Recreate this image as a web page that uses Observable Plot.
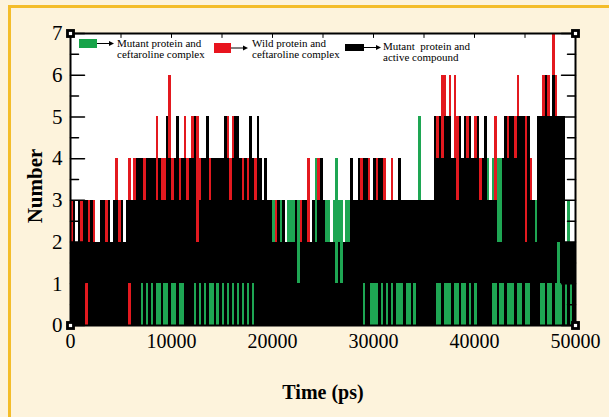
<!DOCTYPE html>
<html>
<head>
<meta charset="utf-8">
<script src="https://cdn.jsdelivr.net/npm/d3@7"></script>
<script src="https://cdn.jsdelivr.net/npm/@observablehq/plot@0.6"></script>
<style>
  html, body { margin: 0; padding: 0; background: #fdf3dc; }
  #wrap { position: relative; width: 609px; height: 417px; overflow: hidden; background: #fdf3dc; }
  #deco { position: absolute; left: 8px; top: 5px; width: 700px; height: 500px;
          border-top: 3px solid #f4bd2a; border-left: 3px solid #f4bd2a; box-sizing: border-box; }
  #chart { position: absolute; left: 0; top: 0; }
  #overlay { position: absolute; left: 0; top: 0; pointer-events: none; }
</style>
</head>
<body>
<div id="wrap">
  <div id="deco"></div>
  <div id="chart"></div>
  <svg id="overlay" width="609" height="417"></svg>
</div>
<script>
// ---------------- data ----------------
const xDomain = [0, 50000];
const yDomain = [0, 7];
const xTicks = [0, 10000, 20000, 30000, 40000, 50000];
const xTopTicks = [5000, 10000, 15000, 20000, 25000, 30000, 35000, 40000, 45000];
const yTicks = [0, 1, 2, 3, 4, 5, 6, 7];
const yMinorTicks = [0.5, 1.5, 2.5, 3.5, 4.5, 5.5, 6.5];
const binWidth = 250; // ps per sampled column

const seriesNames = ["Mutant protein and\nceftaroline complex", "Wild protein and\nceftaroline complex", "Mutant  protein and\nactive compound"];
const seriesColors = ["#1ea653", "#e3191f", "#000000"];

// Mutant protein + ceftaroline (green): per-column min / max number
const greenLo = [
0,0,0,0,0,0,0,0,0,0, 0,0,0,0,0,0,0,0,0,0,
0,0,0,0,0,0,0,0,0,0, 0,0,0,0,0,0,0,0,0,0,
0,0,0,0,0,0,0,0,0,0, 0,0,0,0,0,0,0,0,0,0,
0,0,0,0,0,0,0,0,0,0, 0,0,0,0,0,0,0,0,0,0,
0,0,0,0,0,0,0,0,0,0, 0,0,0,0,0,0,0,0,0,0,
0,0,0,0,0,0,0,0,0,0, 0,0,0,0,0,0,0,0,0,0,
0,0,0,0,0,0,0,0,0,0, 0,0,0,0,0,0,0,0,0,0,
0,0,0,0,0,0,0,0,0,0, 0,0,0,0,0,0,0,0,0,0,
0,0,0,0,0,0,0,0,0,0, 0,0,0,0,0,0,0,0,0,0,
0,0,0,0,0,0,0,0,0,0, 0,0,0,0,0,0,0,0,0,0];
const greenHi = [
1,1,1,1,1,1,1,1,1,1, 1,1,1,1,1,1,1,1,1,1,
1,1,1,1,1,1,1,1,1,1, 1,1,1,1,1,1,1,1,1,1,
1,1,1,1,1,1,1,1,1,1, 1,1,1,1,1,1,1,1,1,1,
1,1,1,1,1,1,1,1,1,1, 1,1,1,1,1,1,1,1,1,1,
3,1,1,3,1,1,3,3,3,1, 3,1,1,1,1,1,1,4,1,1,
1,3,3,1,3,4,3,3,1,3, 3,1,1,1,1,1,1,1,1,1,
1,1,1,1,1,1,1,1,1,1, 1,1,1,1,1,1,1,1,5,1,
1,1,1,1,1,1,1,1,1,1, 1,1,1,1,1,1,1,1,1,1,
1,1,1,1,1,4,1,4,1,4, 4,1,1,1,1,1,1,1,1,1,
1,1,1,1,3,1,1,1,1,1, 1,1,1,2,1,1,1,3,1,1];

// Wild protein + ceftaroline (red)
const redLo = [
1,1,1,1,1,1,0,1,1,1, 1,1,1,1,1,1,1,1,1,1,
1,1,1,0,1,1,1,1,1,1, 1,1,1,1,1,1,1,1,1,1,
1,1,1,1,1,1,1,1,1,1, 1,1,1,1,1,1,1,1,1,1,
1,1,1,1,1,1,1,1,1,1, 1,1,1,1,1,1,1,1,1,1,
1,1,1,1,1,1,1,1,1,1, 1,1,1,1,1,1,1,1,1,1,
1,1,1,1,1,1,1,1,1,1, 1,1,1,1,1,1,1,1,1,1,
1,1,1,1,1,1,1,1,1,1, 1,1,1,1,1,1,1,1,1,1,
1,1,1,1,1,1,1,1,1,1, 1,1,1,1,1,1,1,1,1,1,
1,1,1,1,1,1,1,1,1,1, 1,1,1,1,1,1,1,1,1,1,
1,1,1,1,1,1,1,1,1,1, 1,1,1,1,1,1,1,1,1,1];
const redHi = [
3,1,1,1,3,1,3,3,1,3, 1,1,1,1,3,1,1,1,4,3,
1,1,3,4,1,4,1,4,1,4, 1,1,1,1,5,1,4,4,1,6,
4,1,1,4,1,5,4,1,5,1, 5,4,1,1,1,4,1,1,1,1,
1,1,5,4,5,1,1,1,4,1, 4,1,1,4,1,1,1,1,1,1,
1,3,1,1,1,1,1,1,1,1, 1,3,1,1,4,1,1,1,4,1,
1,1,1,1,1,1,1,1,1,1, 1,1,1,1,1,4,1,1,4,1,
1,4,1,1,4,1,1,4,1,1, 1,1,1,1,1,1,1,1,1,1,
1,1,1,1,1,5,1,6,6,1, 6,1,6,5,1,1,1,5,1,1,
5,1,4,1,1,1,1,1,5,1, 1,1,1,5,1,1,5,6,1,1,
5,1,4,1,1,1,1,6,1,6, 1,7,6,1,1,1,1,1,1,1];

// Mutant protein + active compound (black)
const blackLo = [
0,0,0,0,0,0,1,0,0,0, 0,0,0,0,0,0,0,0,0,0,
0,0,0,1,0,0,0,0,1,0, 1,0,1,0,1,1,0,1,1,0,
1,1,0,1,1,0,0,0,0,1, 0,1,0,1,0,1,1,0,1,0,
1,0,1,0,1,0,1,0,1,0, 1,0,1,0,0,0,0,0,0,0,
0,0,0,0,0,0,0,0,0,0, 0,0,0,0,0,0,0,0,0,0,
0,0,0,0,0,0,0,0,0,0, 0,0,0,0,0,0,1,0,0,1,
1,1,0,1,0,1,0,1,0,1, 1,1,0,1,1,0,1,0,0,0,
0,0,0,0,0,1,1,0,1,1, 1,0,1,1,0,1,1,0,1,0,
1,0,0,0,0,0,0,1,1,0, 1,1,0,1,1,1,0,1,1,0,
1,1,0,0,0,0,1,1,0,1, 1,0,1,2,1,0,1,0,1,0];
const blackHi = [
2,3,2,3,2,3,3,2,3,2, 2,2,3,3,2,3,2,3,3,2,
3,2,3,3,3,3,4,4,4,3, 4,4,4,4,3,4,3,3,5,4,
3,4,5,3,4,4,3,4,4,5, 2,3,4,4,5,3,4,4,4,4,
4,5,4,3,4,5,5,4,3,4, 3,5,4,3,5,4,3,4,3,3,
2,2,3,2,3,2,2,2,2,3, 1,2,3,3,2,2,3,2,3,4,
3,2,2,2,2,1,2,1,2,2, 2,4,3,3,4,3,4,4,3,3,
4,3,4,4,3,3,3,3,3,3, 4,3,3,3,3,3,3,3,3,3,
3,3,3,3,5,4,5,4,5,5, 5,4,4,3,5,4,5,4,5,4,
4,5,3,4,5,3,3,3,3,2, 2,4,5,4,5,5,4,5,5,5,
2,5,3,3,2,5,5,5,6,5, 5,6,5,5,5,5,2,2,2,2];

// ---------------- build ----------------
const toRows = (lo, hi) => lo
  .map((l, i) => ({t0: i * binWidth, t1: (i + 1) * binWidth, lo: l, hi: hi[i]}))
  .filter(d => d.hi > d.lo);

const greenRows = toRows(greenLo, greenHi);
const redRows = toRows(redLo, redHi);
const blackRows = toRows(blackLo, blackHi);

const tickShape = {draw(context, length) { context.moveTo(0, 0); context.lineTo(0, -length); }};
const corners = [
  {x: xDomain[0], y: yDomain[0]}, {x: xDomain[0], y: yDomain[1]},
  {x: xDomain[1], y: yDomain[0]}, {x: xDomain[1], y: yDomain[1]}
];
const serif = "Liberation Serif, Times New Roman, serif";

const chart = Plot.plot({
  width: 609,
  height: 417,
  marginLeft: 70,
  marginRight: 34,
  marginTop: 33,
  marginBottom: 92,
  x: {domain: xDomain},
  y: {domain: yDomain},
  style: {fontFamily: serif, fontSize: "20px", background: "transparent", color: "black", overflow: "visible"},
  marks: [
    Plot.frame({fill: "white"}),
    Plot.rect(greenRows, {x1: "t0", x2: "t1", y1: "lo", y2: "hi", fill: seriesColors[0], shapeRendering: "crispEdges"}),
    Plot.rect(redRows, {x1: "t0", x2: "t1", y1: "lo", y2: "hi", fill: seriesColors[1], shapeRendering: "crispEdges"}),
    Plot.rect(blackRows, {x1: "t0", x2: "t1", y1: "lo", y2: "hi", fill: seriesColors[2], shapeRendering: "crispEdges"}),
    Plot.axisX(xTicks, {anchor: "bottom", tickSize: 0, tickPadding: 8, tickFormat: d3.format("d"), fontSize: 20, fontFamily: serif, label: null}),
    Plot.axisY(yTicks, {anchor: "left", tickSize: 0, tickPadding: 8, tickFormat: d3.format("d"), fontSize: 21, fontFamily: serif, label: null}),
    // inward ticks, left & right
    Plot.vector(yTicks, {x: () => xDomain[0], y: d => d, length: 14, rotate: 90, anchor: "start", shape: tickShape, stroke: "black", strokeWidth: 1.5}),
    Plot.vector(yMinorTicks, {x: () => xDomain[0], y: d => d, length: 8, rotate: 90, anchor: "start", shape: tickShape, stroke: "black", strokeWidth: 1.5}),
    Plot.vector(yTicks, {x: () => xDomain[1], y: d => d, length: 14, rotate: -90, anchor: "start", shape: tickShape, stroke: "black", strokeWidth: 1.5}),
    Plot.vector(yMinorTicks, {x: () => xDomain[1], y: d => d, length: 8, rotate: -90, anchor: "start", shape: tickShape, stroke: "black", strokeWidth: 1.5}),
    Plot.vector(xTopTicks, {x: d => d, y: () => yDomain[1], length: 4, rotate: 180, anchor: "start", shape: tickShape, stroke: "black", strokeWidth: 1}),
    Plot.frame({stroke: "black", strokeWidth: 2}),
    Plot.dot(corners, {x: "x", y: "y", symbol: "square", r: 5, fill: "black"}),
    Plot.dot(corners, {x: "x", y: "y", symbol: "square", r: 1.8, fill: "white"})
  ]
});
document.getElementById("chart").appendChild(chart);

// ---------------- legend & axis titles ----------------
const ov = d3.select("#overlay");
const legendItems = [
  {sw: [79, 39, 18, 9], arrowY: 43.5, tx: 117, ty: 47},
  {sw: [214, 43, 17, 10], arrowY: 48, tx: 252, ty: 47},
  {sw: [345, 44, 19, 7], arrowY: 47.5, tx: 383, ty: 50}
];
const legendColors = ["#17a349", "#e8141e", "#000000"];
legendItems.forEach((it, k) => {
  const [x, y, w, h] = it.sw;
  ov.append("rect").attr("x", x).attr("y", y).attr("width", w).attr("height", h).attr("fill", legendColors[k]);
  const ax0 = x + w, ax1 = x + w + 12;
  ov.append("line").attr("x1", ax0).attr("x2", ax1).attr("y1", it.arrowY).attr("y2", it.arrowY).attr("stroke", "black").attr("stroke-width", 1);
  ov.append("path").attr("d", `M${ax1},${it.arrowY - 2.5}L${ax1 + 5},${it.arrowY}L${ax1},${it.arrowY + 2.5}Z`).attr("fill", "black");
  seriesNames[k].split("\n").forEach((line, j) => {
    ov.append("text").attr("x", it.tx).attr("y", it.ty + j * 11)
      .attr("font-family", serif).attr("font-size", 11).attr("fill", "black")
      .attr("xml:space", "preserve").style("white-space", "pre").text(line);
  });
});
ov.append("text").attr("x", 323).attr("y", 399).attr("text-anchor", "middle")
  .attr("font-family", serif).attr("font-size", 20).attr("font-weight", "bold").text("Time (ps)");
ov.append("text").attr("transform", "translate(42,186) rotate(-90)").attr("text-anchor", "middle")
  .attr("font-family", serif).attr("font-size", 21).attr("font-weight", "bold").text("Number");
</script>
</body>
</html>
